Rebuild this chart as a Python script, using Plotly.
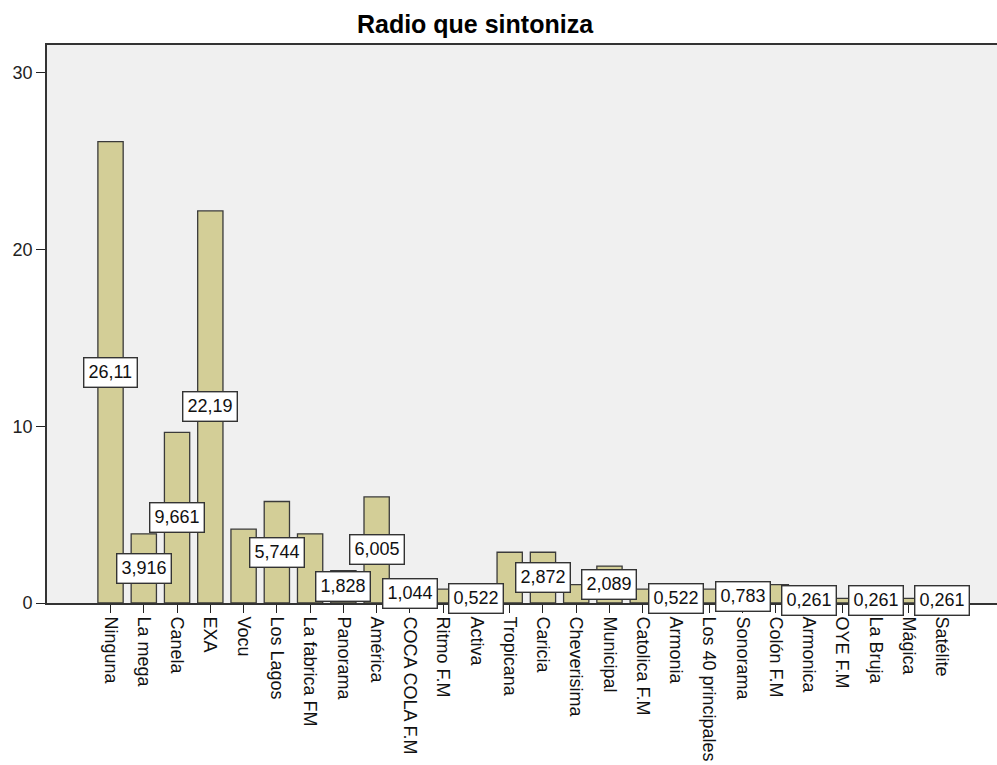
import plotly.graph_objects as go

categories = ["Ninguna", "La mega", "Canela", "EXA", "Vocu", "Los Lagos", "La fabrica FM",
              "Panorama", "América", "COCA COLA F.M", "Ritmo F.M", "Activa", "Tropicana",
              "Caricia", "Cheverisima", "Municipal", "Catolica F.M", "Armonia",
              "Los 40 principales", "Sonorama", "Colón F.M", "Armonica", "OYE F.M",
              "La Bruja", "Mágica", "Satélite"]
values = [26.11, 3.916, 9.661, 22.19, 4.178, 5.744, 3.916, 1.828, 6.005, 1.044, 0.783, 0.522,
          2.872, 2.872, 1.044, 2.089, 0.783, 0.522, 0.783, 0.783, 1.044, 0.261, 0.261,
          0.261, 0.261, 0.261]
label_text = ["26,11", "3,916", "9,661", "22,19", None, "5,744", None, "1,828", "6,005",
              "1,044", None, "0,522", None, "2,872", None, "2,089", None, "0,522", None,
              "0,783", None, "0,261", None, "0,261", None, "0,261"]
y_ticks = [0, 10, 20, 30]
title_text = "Radio que sintoniza"

FONT = "Liberation Sans, Arial, sans-serif"

fig = go.Figure()
fig.add_trace(go.Bar(
    x=list(range(len(categories))), y=values, width=0.76,
    marker=dict(color="#D3CE97", line=dict(color="#3a3a3a", width=1.3)),
    hoverinfo="skip",
))

annotations = []
for i, (v, t) in enumerate(zip(values, label_text)):
    if t is None:
        continue
    annotations.append(dict(
        x=i, y=v / 2, xref="x", yref="y", text=t, showarrow=False,
        font=dict(family=FONT, size=18, color="#111"),
        bgcolor="white", bordercolor="#333", borderwidth=1.4, borderpad=4,
    ))

fig.update_layout(
    width=997, height=765,
    margin=dict(l=47, r=0, t=45, b=162, autoexpand=False),
    paper_bgcolor="white", plot_bgcolor="#F0F0F0",
    showlegend=False,
    title=dict(text="<b>" + title_text + "</b>", x=475 / 997, xref="container", xanchor="center",
               y=1 - 24 / 765, yref="container", yanchor="middle", automargin=False,
               font=dict(family=FONT, size=25, color="#000")),
    annotations=annotations,
    font=dict(family=FONT),
)
fig.update_xaxes(
    range=[-1.91, 26.65], tickmode="array", tickvals=list(range(len(categories))),
    ticktext=categories, tickangle=90, ticks="outside", ticklen=8, tickcolor="#222",
    tickwidth=1.3, showline=True, linecolor="#333", linewidth=1.6, mirror=True,
    showgrid=False, zeroline=False, automargin=False,
    tickfont=dict(family=FONT, size=18, color="#111"),
)
fig.update_yaxes(
    range=[0, 31.58], tickmode="array", tickvals=y_ticks, ticks="outside", ticklen=9,
    tickcolor="#222", tickwidth=1.3, showline=True, linecolor="#333", linewidth=1.6,
    showgrid=False, zeroline=False, automargin=False,
    tickfont=dict(family=FONT, size=18, color="#222"),
)

fig.write_html("out.html", config={"displayModeBar": False},
               post_script="document.body.style.margin='0';document.body.style.overflow='hidden';")
